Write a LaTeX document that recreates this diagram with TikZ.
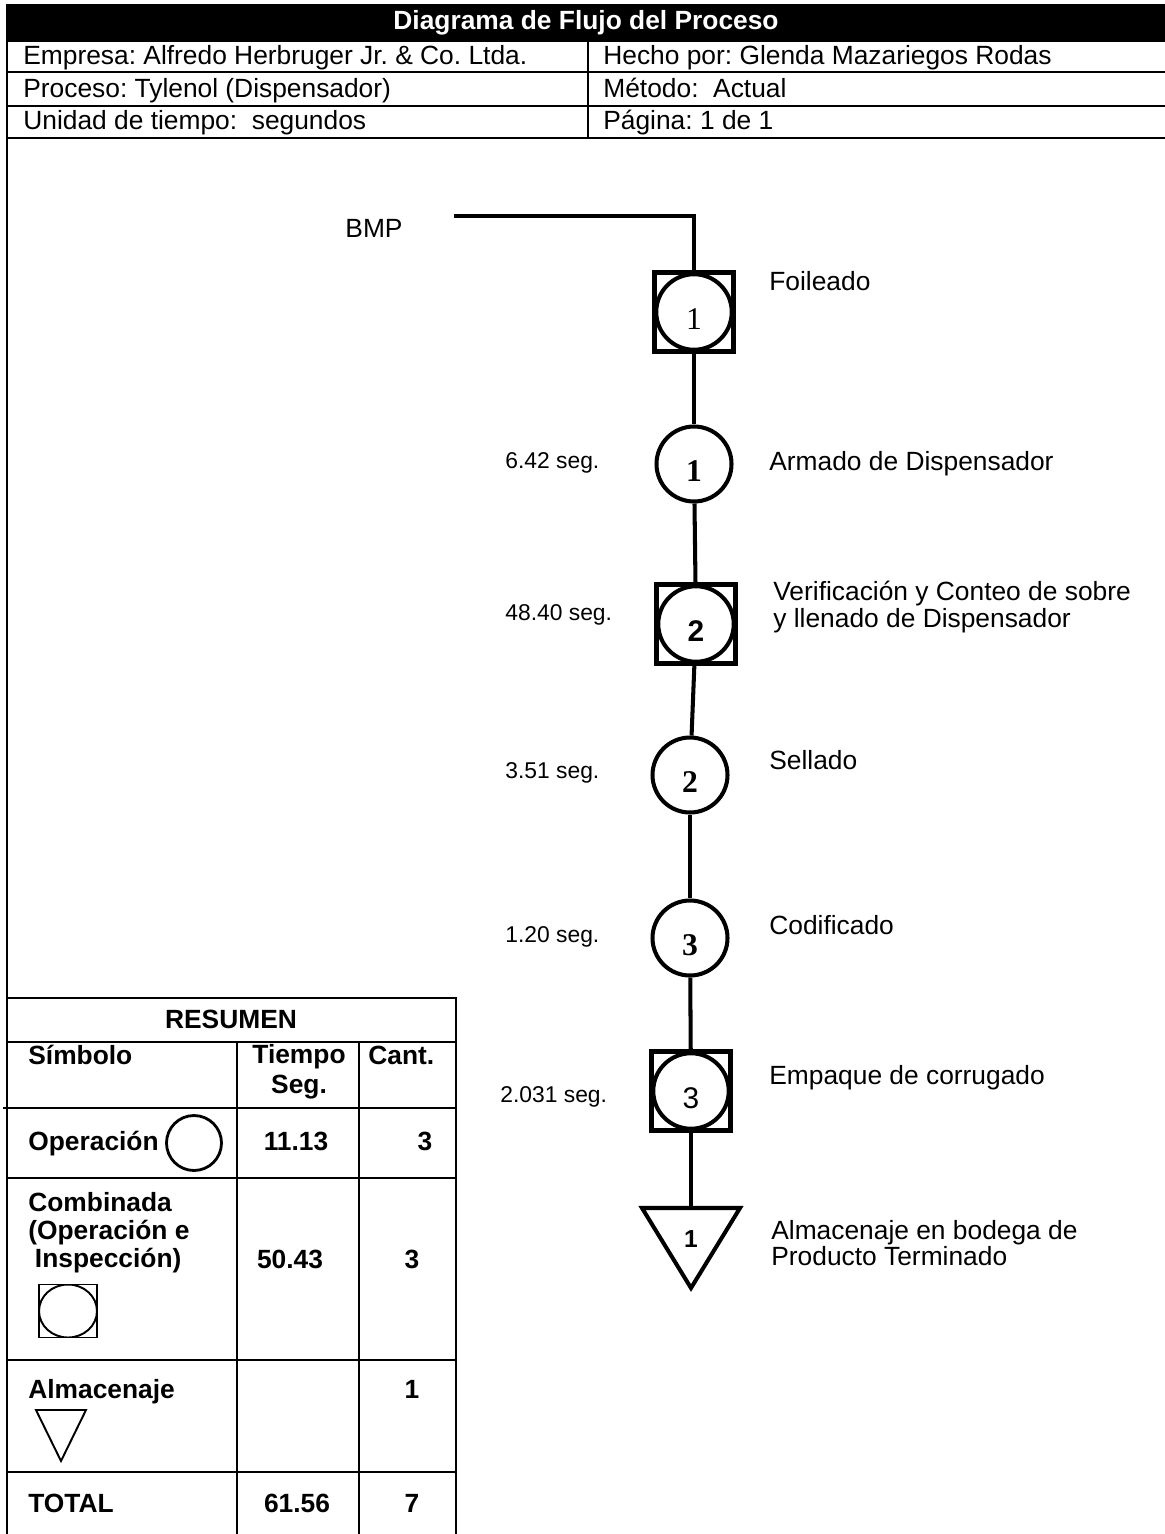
\documentclass[tikz,border=0pt]{standalone}
\usepackage{fontspec}
\setmainfont{Liberation Sans}
\newfontfamily\numserif{Liberation Serif}
\usepackage{tikz}
\usetikzlibrary{positioning}
\frenchspacing

\begin{document}
\begin{tikzpicture}[
    x=0.02cm, y=-0.02cm,
    txt/.style={font=\fontsize{15}{13.5}\selectfont, inner sep=0pt, anchor=west, text height=11pt, text depth=3pt},
    txtml/.style={font=\fontsize{15}{13.5}\selectfont, inner sep=0pt, anchor=west, align=left},
    ttl/.style={font=\fontsize{15}{17}\selectfont\bfseries, inner sep=0pt, text=white},
    tbl/.style={font=\fontsize{15}{16}\selectfont\bfseries, inner sep=0pt, text height=11pt, text depth=3pt},
    time/.style={font=\fontsize{13}{15}\selectfont, inner sep=0pt, anchor=west},
    flow/.style={line width=2.3pt},
    grid/.style={line width=1.4pt},
    tline/.style={line width=1.1pt},
    opnode/.style={circle, draw, line width=2.3pt, minimum size=1.5cm, inner sep=0pt, fill=white, text height=20pt, text depth=0pt},
    combo/.style={rectangle, draw, line width=2.3pt, minimum size=1.58cm, inner sep=0pt, fill=white, text height=20pt, text depth=0pt,
        path picture={\draw[line width=2.3pt] (path picture bounding box.center) circle (0.755cm);}},
    serifnum/.style={font=\fontsize{18}{20}\selectfont\numserif},
    serifbf/.style={font=\fontsize{18}{20}\selectfont\numserif\bfseries},
    sansnum/.style={font=\fontsize{17}{20}\selectfont},
    sansbf/.style={font=\fontsize{17}{20}\selectfont\bfseries}
]
\useasboundingbox (0,0) rectangle (1165,1534);

% header
\fill (7,4) rectangle (1165,41);
\node[ttl] (title) at (586,23) {Diagrama de Flujo del Proceso};
\draw[grid] (7,41) -- (1165,41);
\draw[grid] (7,72) -- (1165,72);
\draw[grid] (7,106) -- (1165,106);
\draw[grid] (7,138) -- (1165,138);
\draw[grid] (588,41) -- (588,138);
\draw[grid] (7,4) -- (7,998);
\node[txt] (empresa) at (23,57) {Empresa: Alfredo Herbruger Jr. \& Co. Ltda.};
\node[txt] (hecho) at (603,57) {Hecho por: Glenda Mazariegos Rodas};
\node[txt] (proceso) at (23,90) {Proceso: Tylenol (Dispensador)};
\node[txt] (metodo) at (603,90) {Método:~ Actual};
\node[txt] (unidad) at (23,122) {Unidad de tiempo:~ segundos};
\node[txt] (pagina) at (603,122) {Página: 1 de 1};

% flow
\node[txt, anchor=center] (bmp) at (374,230) {BMP};
\coordinate (bmpend) at (454,216);
\node[combo, serifnum] (f1) at (694,312) {1};
\node[opnode, serifbf] (o1) at (694,464) {1};
\node[combo, sansbf] (f2) at (696,624) {2};
\node[opnode, serifbf] (o2) at (690,775) {2};
\node[opnode, serifbf] (o3) at (690,938) {3};
\node[combo, sansnum] (f3) at (691,1091) {3};
\coordinate (a1top) at (691,1208);
\draw[flow] (642,1208) -- (740,1208) -- (691,1288) -- cycle;
\node[inner sep=0pt, font=\fontsize{14}{16}\selectfont\bfseries] (a1) at (691,1239) {1};

\draw[flow] (bmpend) -| (f1);
\draw[flow] (f1) -- (o1);
\draw[flow] (o1) -- (f2);
\draw[flow] (f2) -- (o2);
\draw[flow] (o2) -- (o3);
\draw[flow] (o3) -- (f3);
\draw[flow] (f3) -- (a1top);

\node[txt] (foil) at (769,283) {Foileado};
\node[txt] (armado) at (769,463) {Armado de Dispensador};
\node[txtml] (verif) at (773,607) {Verificación y Conteo de sobre\\y llenado de Dispensador};
\node[txt] (sellado) at (769,762) {Sellado};
\node[txt] (codif) at (769,927) {Codificado};
\node[txt] (empaque) at (769,1077) {Empaque de corrugado};
\node[txtml] (almac) at (771,1243) {Almacenaje en bodega de\\Producto Terminado};

\node[time] (t1) at (505,463) {6.42 seg.};
\node[time] (t2) at (505,615) {48.40 seg.};
\node[time] (t3) at (505,773) {3.51 seg.};
\node[time] (t4) at (505,937) {1.20 seg.};
\node[time] (t5) at (500,1097) {2.031 seg.};

% resumen
\draw[tline] (7,998) rectangle (456,1540);
\draw[tline] (7,1042) -- (456,1042);
\draw[tline] (3,1108) -- (456,1108);
\draw[tline] (7,1178) -- (456,1178);
\draw[tline] (7,1360) -- (456,1360);
\draw[tline] (7,1472) -- (456,1472);
\draw[tline] (237,1042) -- (237,1540);
\draw[tline] (359,1042) -- (359,1540);

\node[tbl] (resumen) at (231,1021) {RESUMEN};
\node[tbl, anchor=west] (simbolo) at (28,1057) {Símbolo};
\node[tbl, align=center, text height=, text depth=, font=\fontsize{15}{17}\selectfont\bfseries] (tiempo) at (299,1072) {Tiempo\\Seg.};
\node[tbl, anchor=west] (cant) at (368,1057) {Cant.};

\node[tbl, anchor=west] (operacion) at (28,1143) {Operación};
\node[circle, draw, line width=1.6pt, minimum size=1.1cm, inner sep=0pt] (symop) at (194,1143) {};
\node[tbl] (op-t) at (296,1143) {11.13};
\node[tbl] (op-n) at (425,1143) {3};

\node[tbl, anchor=west, align=left, text height=, text depth=] (combinada) at (28,1233) {Combinada\\(Operación e\\\hspace*{0.25em}Inspección)};
\node[rectangle, draw, line width=1.1pt, minimum width=1.16cm, minimum height=1.06cm, inner sep=0pt,
    path picture={\draw[line width=1.1pt] (path picture bounding box.center) ellipse (0.58cm and 0.53cm);}] (symcomb) at (68,1311) {};
\node[tbl] (comb-t) at (290,1261) {50.43};
\node[tbl] (comb-n) at (412,1261) {3};

\node[tbl, anchor=west] (almacenaje) at (28,1391) {Almacenaje};
\draw[tline] (36,1410) -- (86,1410) -- (61,1461) -- cycle;
\node[tbl] (alm-n) at (412,1391) {1};

\node[tbl, anchor=west] (total) at (28,1505) {TOTAL};
\node[tbl] (tot-t) at (297,1505) {61.56};
\node[tbl] (tot-n) at (412,1505) {7};
\end{tikzpicture}
\end{document}
